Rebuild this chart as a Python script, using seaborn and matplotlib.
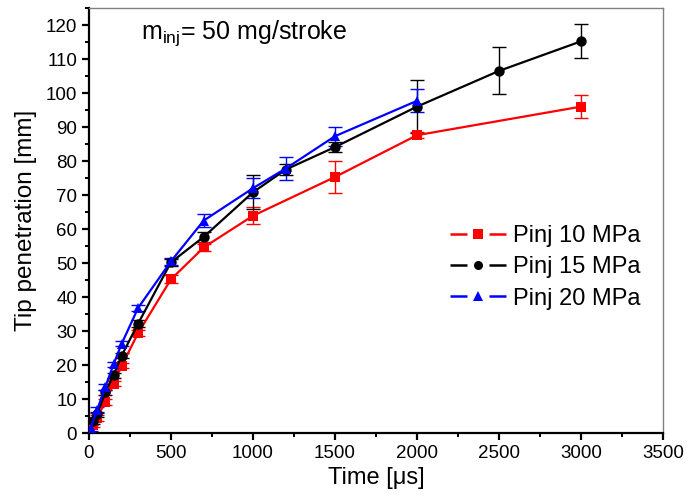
import numpy as np
import pandas as pd
import matplotlib
matplotlib.use("Agg")
import matplotlib.pyplot as plt
from matplotlib.lines import Line2D
from matplotlib.legend_handler import HandlerBase
from matplotlib.ticker import MultipleLocator
import seaborn as sns

# data
t_10 = [25, 50, 100, 150, 200, 300, 500, 700, 1000, 1500, 2000, 3000]
y_10 = [2.5, 4.5, 9.2, 14.5, 19.8, 29.4, 45.2, 54.6, 63.9, 75.3, 87.6, 96.0]
e_10 = [0.8, 0.8, 0.8, 0.8, 0.8, 0.8, 1.2, 1.0, 2.5, 4.7, 0.8, 3.4]

t_15 = [25, 50, 100, 150, 200, 300, 500, 700, 1000, 1200, 1500, 2000, 2500, 3000]
y_15 = [3.5, 5.5, 12.0, 17.0, 22.8, 32.2, 50.2, 57.7, 70.8, 77.5, 84.1, 96.0, 106.5, 115.2]
e_15 = [0.8, 0.8, 0.8, 0.8, 0.8, 1.0, 1.0, 1.5, 5.0, 1.5, 1.4, 7.8, 6.9, 5.0]

t_20 = [10, 50, 100, 150, 200, 300, 500, 700, 1000, 1200, 1500, 2000]
y_20 = [1.5, 6.8, 13.5, 20.2, 26.3, 36.8, 50.5, 62.5, 72.0, 77.8, 87.3, 97.7]
e_20 = [0.8, 0.8, 0.8, 0.8, 0.8, 0.8, 1.0, 1.8, 3.0, 3.3, 2.8, 3.4]

labels = ["Pinj 10 MPa", "Pinj 15 MPa", "Pinj 20 MPa"]
colors = ["#ff0000", "#000000", "#0000ff"]
markers = ["s", "o", "^"]

series = [(t_10, y_10, e_10), (t_15, y_15, e_15), (t_20, y_20, e_20)]
df = pd.concat(
    [pd.DataFrame({"Time": t, "Tip": y, "Err": e, "Series": lab})
     for (t, y, e), lab in zip(series, labels)],
    ignore_index=True,
)


class GapHandler(HandlerBase):
    # legend key: short line, marker, short line (Origin style)
    def create_artists(self, legend, orig, xdescent, ydescent, width, height,
                       fontsize, trans):
        y = height / 2 - ydescent
        x0 = -xdescent
        x1 = x0 + width
        seg = width * 0.3
        kw = dict(color=orig.get_color(), linewidth=orig.get_linewidth(),
                  solid_capstyle="butt")
        left = Line2D([x0, x0 + seg], [y, y], **kw)
        right = Line2D([x1 - seg, x1], [y, y], **kw)
        mark = Line2D([x0 + width / 2], [y], linestyle="none",
                      marker=orig.get_marker(), markersize=orig.get_markersize(),
                      color=orig.get_color(), markeredgewidth=0)
        for a in (left, right, mark):
            a.set_transform(trans)
        return [left, right, mark]


sns.set_style("ticks")
plt.rcParams["font.family"] = ["Liberation Sans", "DejaVu Sans"]
plt.rcParams["mathtext.fontset"] = "custom"
plt.rcParams["mathtext.rm"] = "Liberation Sans"
plt.rcParams["mathtext.it"] = "Liberation Sans"
for key in ["text.color", "axes.labelcolor", "xtick.color", "ytick.color"]:
    plt.rcParams[key] = "black"

fig = plt.figure(figsize=(7, 5.03), dpi=100)
ax = fig.add_axes([0.127, 0.139, 0.82, 0.845])

for lab, col, mk in zip(labels, colors, markers):
    d = df[df["Series"] == lab]
    ax.errorbar(d["Time"], d["Tip"], yerr=d["Err"], fmt="none",
                ecolor=col, elinewidth=1.0, capsize=5, capthick=1.0, zorder=2)

sns.lineplot(data=df, x="Time", y="Tip", hue="Series", style="Series",
             palette=colors, markers=markers, dashes=False, errorbar=None,
             sort=False, linewidth=1.6, markersize=7.5, markeredgewidth=0,
             legend=False, ax=ax, zorder=3)

ax.set_xlim(0, 3500)
ax.set_ylim(0, 125)
ax.xaxis.set_major_locator(MultipleLocator(500))
ax.xaxis.set_minor_locator(MultipleLocator(250))
ax.set_yticks(np.arange(0, 121, 10))
ax.yaxis.set_minor_locator(MultipleLocator(5))

for side in ["top", "right"]:
    ax.spines[side].set_color("#808080")
    ax.spines[side].set_linewidth(1.0)
for side in ["left", "bottom"]:
    ax.spines[side].set_color("black")
    ax.spines[side].set_linewidth(1.6)

ax.tick_params(which="major", direction="out", length=5, width=1.6,
               labelsize=13.5, top=False, right=False)
ax.tick_params(which="minor", direction="out", length=3, width=1.4,
               top=False, right=False)

ax.set_xlabel("Time [μs]", fontsize=17, labelpad=4)
ax.set_ylabel("Tip penetration [mm]", fontsize=17.5, labelpad=6)

ax.text(0.09, 0.941, r"m$_{\mathrm{inj}}$= 50 mg/stroke", transform=ax.transAxes,
        fontsize=18, va="center", ha="left")

handles = [Line2D([], [], color=c, marker=m, markersize=6.5, linewidth=1.8)
           for c, m in zip(colors, markers)]
ax.legend(handles, labels, loc="upper left", bbox_to_anchor=(0.629, 0.49),
          frameon=False, fontsize=17, handlelength=2.36, handletextpad=0.3,
          labelspacing=0.4, borderpad=0, borderaxespad=0,
          handler_map={Line2D: GapHandler()})

fig.savefig("out.png", dpi=100)
